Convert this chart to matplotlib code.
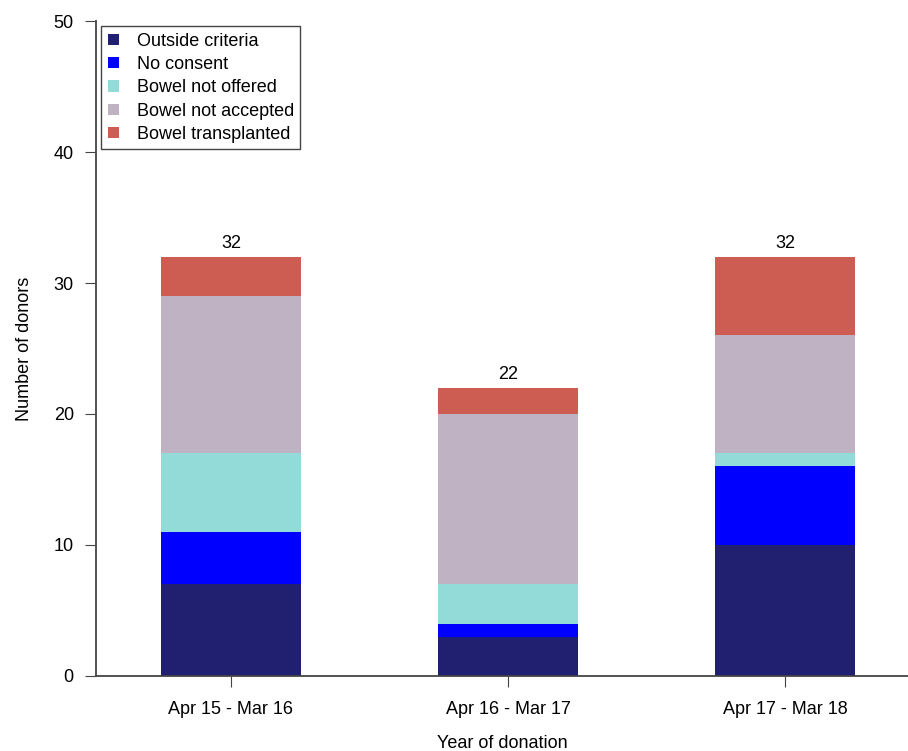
import matplotlib
matplotlib.use('Agg')
import matplotlib.pyplot as plt
import numpy as np

plt.rcParams['font.family'] = ['Liberation Sans', 'DejaVu Sans']

years = ['Apr 15 - Mar 16', 'Apr 16 - Mar 17', 'Apr 17 - Mar 18']
categories = ['Outside criteria', 'No consent', 'Bowel not offered',
              'Bowel not accepted', 'Bowel transplanted']
outside_criteria = [7, 3, 10]
no_consent = [4, 1, 6]
not_offered = [6, 3, 1]
not_accepted = [12, 13, 9]
transplanted = [3, 2, 6]
colors = ['#211f70', '#0000ff', '#92dbd8', '#bfb3c3', '#cd5c52']

series = [outside_criteria, no_consent, not_offered, not_accepted, transplanted]

fig = plt.figure(figsize=(9.08, 7.51), dpi=100)
ax = fig.add_axes([0.1057, 0.0999, 0.8943, 0.8721])

x = np.arange(len(years))
bottom = np.zeros(len(years))
for vals, name, c in zip(series, categories, colors):
    ax.bar(x, vals, width=0.505, bottom=bottom, color=c, label=name)
    bottom += np.array(vals)

for xi, tot in zip(x, bottom):
    ax.text(xi, tot + 0.35, f'{int(tot)}', ha='center', va='bottom', fontsize=13)

ax.set_xlim(-0.487, 2.444)
ax.set_ylim(0, 50)
ax.set_yticks([0, 10, 20, 30, 40, 50])
ax.set_xticks(x)
ax.set_xticklabels(years, fontsize=13)
ax.tick_params(axis='y', labelsize=13, pad=8)
ax.tick_params(direction='out', length=8, color='#444444')
ax.tick_params(axis='x', pad=10)
ax.set_xlabel('Year of donation', fontsize=13, labelpad=12)
ax.set_ylabel('Number of donors', fontsize=13, labelpad=15)

for s in ['top', 'right']:
    ax.spines[s].set_visible(False)
for s in ['left', 'bottom']:
    ax.spines[s].set_color('#444444')
    ax.spines[s].set_linewidth(1.3)

leg = ax.legend(loc='upper left', bbox_to_anchor=(0.0, 1.0), fontsize=13,
                handlelength=0.6, handleheight=0.6, handletextpad=1.0,
                labelspacing=0.35, borderpad=0.35, borderaxespad=0.3,
                fancybox=False, framealpha=1, edgecolor='#444444')
leg.get_frame().set_linewidth(1.0)

fig.savefig('out.png', dpi=100)
